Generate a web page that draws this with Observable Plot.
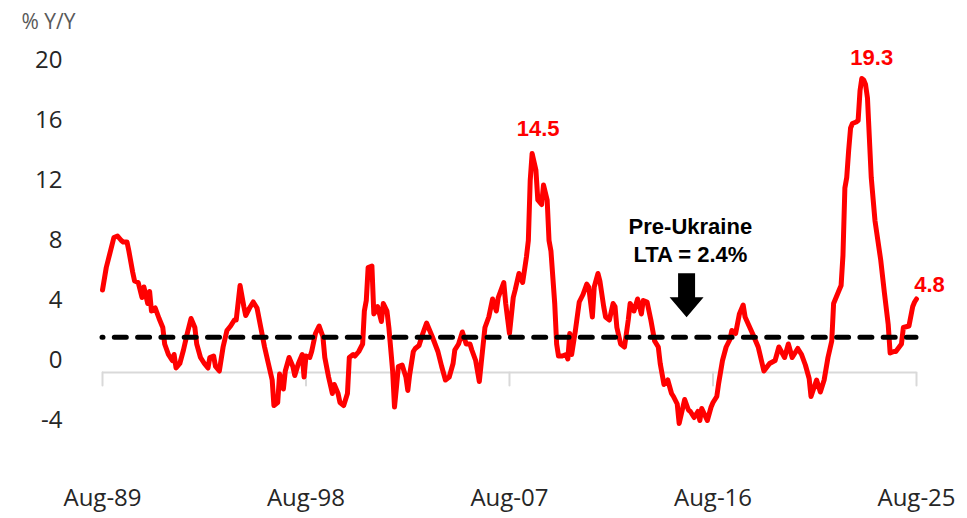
<!DOCTYPE html>
<html><head><meta charset="utf-8">
<script src="https://cdn.jsdelivr.net/npm/d3@7"></script>
<script src="https://cdn.jsdelivr.net/npm/@observablehq/plot@0.6"></script>
<style>html,body{margin:0;padding:0;background:#fff;} #chart svg{display:block}</style>
</head><body><div id="chart"></div><script>
// ---- data ----
const dates = ["1989-08","1989-10","1989-11","1990-02","1990-04","1990-06","1990-07","1990-09","1990-10","1990-12",
"1991-01","1991-03","1991-05","1991-06","1991-08","1991-09","1991-10","1991-12","1992-02","1992-04",
"1992-05","1992-07","1992-09","1992-10","1992-11","1993-01","1993-03","1993-05","1993-07","1993-09",
"1993-10","1993-12","1994-02","1994-04","1994-05","1994-07","1994-08","1994-10","1994-12","1995-02",
"1995-04","1995-06","1995-07","1995-09","1995-11","1995-12","1996-02","1996-04","1996-06","1996-08",
"1996-10","1996-12","1997-02","1997-03","1997-05","1997-06","1997-08","1997-09","1997-11","1998-01",
"1998-02","1998-04","1998-06","1998-07","1998-08","1998-10","1998-11","1999-01","1999-03","1999-05",
"1999-06","1999-08","1999-10","1999-11","2000-01","2000-02","2000-04","2000-06","2000-07","2000-09",
"2000-10","2000-12","2001-02","2001-03","2001-04","2001-05","2001-07","2001-08","2001-09","2001-10",
"2001-12","2002-01","2002-03","2002-04","2002-06","2002-07","2002-08","2002-09","2002-11","2003-01",
"2003-02","2003-03","2003-05","2003-06","2003-08","2003-10","2003-12","2004-03","2004-06","2004-08",
"2004-10","2004-12","2005-02","2005-03","2005-05","2005-07","2005-09","2005-11","2005-12","2006-02",
"2006-04","2006-05","2006-07","2006-09","2006-11","2007-01","2007-02","2007-05","2007-06","2007-08",
"2007-10","2007-11","2008-01","2008-03","2008-05","2008-06","2008-07","2008-08","2008-10","2008-11",
"2009-01","2009-02","2009-04","2009-05","2009-06","2009-08","2009-09","2009-10","2009-12","2010-02",
"2010-03","2010-04","2010-05","2010-07","2010-09","2010-11","2011-01","2011-02","2011-04","2011-05",
"2011-07","2011-08","2011-10","2011-11","2012-01","2012-03","2012-04","2012-05","2012-07","2012-09",
"2012-11","2012-12","2013-02","2013-04","2013-06","2013-07","2013-09","2013-11","2014-01","2014-03",
"2014-04","2014-06","2014-08","2014-10","2014-11","2015-01","2015-02","2015-05","2015-07","2015-08",
"2015-10","2015-12","2016-01","2016-02","2016-05","2016-07","2016-08","2016-10","2016-11","2017-01",
"2017-03","2017-05","2017-06","2017-08","2017-10","2017-12","2018-01","2018-05","2018-08","2018-11",
"2019-02","2019-05","2019-07","2019-10","2019-12","2020-02","2020-05","2020-07","2020-09","2020-11",
"2020-12","2021-03","2021-05","2021-07","2021-09","2021-11","2021-12","2022-03","2022-04","2022-05",
"2022-06","2022-07","2022-08","2022-09","2022-10","2022-12","2023-01","2023-02","2023-03","2023-04",
"2023-05","2023-06","2023-08","2023-10","2024-01","2024-03","2024-05","2024-06","2024-08","2024-09",
"2024-12","2025-01","2025-04","2025-06","2025-07","2025-08"];
const values = [4.7,6.2,6.7,8.2,8.3,8.0,7.9,7.9,7.3,5.9,
5.3,5.2,4.2,4.9,3.8,4.6,3.3,3.5,2.8,2.2,
1.1,0.4,0.0,0.4,-0.5,-0.2,0.7,1.8,2.8,2.2,
1.1,0.2,-0.2,-0.5,0.2,0.3,-0.4,-0.7,0.9,2.0,
2.3,2.7,2.7,5.0,3.6,3.0,3.5,3.9,3.5,2.2,
0.9,-0.2,-1.3,-3.0,-2.8,-0.9,-1.9,-0.7,0.2,-0.4,
-1.0,-0.2,0.4,-1.1,0.3,0.2,0.6,1.8,2.3,1.6,
0.2,-1.1,-2.2,-1.6,-2.2,-2.8,-3.0,-2.2,0.2,0.4,
0.3,0.6,1.1,3.3,4.0,6.2,6.3,3.1,3.3,3.6,
2.6,3.8,3.3,2.2,-0.7,-3.1,-1.8,-0.4,-0.3,-1.1,
-2.0,-1.0,0.6,0.8,1.0,1.8,2.5,1.6,0.6,-0.4,
-1.3,-1.1,-0.2,0.7,1.1,1.9,1.1,1.1,0.7,0.0,
-1.4,-0.2,2.2,2.9,4.1,3.3,4.2,5.2,3.8,1.8,
4.2,4.7,5.8,5.2,6.9,8.0,12.0,13.8,12.7,10.7,
10.4,11.7,10.7,8.0,7.3,3.8,1.1,0.3,0.3,0.4,
0.1,1.8,0.4,2.0,3.9,4.4,5.1,4.9,2.9,4.9,
5.8,5.3,3.6,2.9,2.7,3.8,3.6,2.2,1.1,0.9,
2.7,3.8,3.3,4.1,3.1,4.0,3.9,2.7,1.3,0.9,
-0.2,-1.6,-1.3,-2.2,-2.4,-2.9,-4.2,-2.6,-3.3,-3.4,
-3.8,-3.4,-4.0,-3.2,-4.0,-3.1,-2.8,-2.4,-1.5,0.0,
0.9,1.4,2.0,1.8,3.1,3.7,2.9,1.8,0.9,-0.7,
-0.2,0.0,0.9,0.2,1.1,0.2,0.8,0.4,-0.3,-1.2,
-2.4,-1.3,-2.1,-1.3,0.2,1.3,3.8,4.7,5.0,7.0,
11.5,12.2,14.0,15.5,15.8,15.9,16.0,18.0,18.8,18.7,
18.4,17.5,12.2,9.3,6.7,4.5,2.4,0.5,0.6,0.6,
1.1,2.2,2.3,3.6,3.9,4.1];

const yTicks = [-4, 0, 4, 8, 12, 16, 20];
const xTickDates = ["1989-08", "1998-08", "2007-08", "2016-08", "2025-08"];
const xTickLabels = ["Aug-89", "Aug-98", "Aug-07", "Aug-16", "Aug-25"];
const unitLabel = "% Y/Y";
const ltaLevel = 1.55;            // level at which the dashed line is drawn
const ltaNote = "Pre-Ukraine\nLTA = 2.4%";
const ltaNoteDate = "2015-08";
const ltaArrowDate = "2015-06";
const peakDates = ["2008-08", "2023-03", "2025-08"];
const peakLabels = ["14.5", "19.3", "4.8"];
const axisBase = -0.8;            // where the category axis line crosses

// ---- build ----
const parse = d3.utcParse("%Y-%m");
const data = dates.map((d, i) => ({date: parse(d), value: values[i]}));
const xTicks = xTickDates.map(parse);
const labelMap = new Map(xTicks.map((d, i) => [+d, xTickLabels[i]]));
const start = parse(dates[0]), end = parse(dates[dates.length - 1]);
const peakPts = peakDates.map((d, i) => ({...data.find(p => +p.date === +parse(d)), label: peakLabels[i]}));

const tickShape = {draw(ctx, l) { ctx.moveTo(0, 0); ctx.lineTo(0, -l); }};
const blockArrow = {draw(ctx, l) {
  const sw = 8.5, hw = 17, hl = 20;
  ctx.moveTo(-sw, 0); ctx.lineTo(-sw, -l + hl); ctx.lineTo(-hw, -l + hl);
  ctx.lineTo(0, -l); ctx.lineTo(hw, -l + hl); ctx.lineTo(sw, -l + hl);
  ctx.lineTo(sw, 0); ctx.closePath();
}};

const boldFont = "'Liberation Sans', Arial, sans-serif";
const peakOffsets = [[6, -25], [10, -21], [13, -14]];

const chart = Plot.plot({
  width: 967, height: 518,
  marginLeft: 102, marginRight: 51, marginTop: 60, marginBottom: 98,
  x: {type: "utc", domain: [parse(xTickDates[0]), parse(xTickDates[xTickDates.length - 1])]},
  y: {domain: [-4, 20]},
  style: {fontFamily: "'Open Sans', sans-serif", fontSize: "24px", color: "#262626", background: "white"},
  marks: [
    Plot.axisY(yTicks, {tickSize: 0, tickPadding: 40, fontSize: 24, label: null, tickFormat: d => String(d)}),
    Plot.axisX(xTicks, {tickSize: 0, tickPadding: 68, fontSize: 24, label: null, tickFormat: d => labelMap.get(+d)}),
    Plot.ruleY([axisBase], {x1: () => start, x2: () => end, stroke: "#d9d9d9", strokeWidth: 2}),
    Plot.vector(xTicks, {x: d => d, y: () => axisBase, rotate: 180, length: 13, anchor: "start",
      shape: tickShape, stroke: "#d9d9d9", strokeWidth: 2}),
    Plot.line(data, {x: "date", y: "value", stroke: "#ff0000", strokeWidth: 5, strokeLinejoin: "round"}),
    Plot.ruleY([ltaLevel], {x1: () => start, x2: () => end, stroke: "black", strokeWidth: 5,
      strokeDasharray: "12 11.3", strokeDashoffset: 11, strokeLinecap: "round"}),
    ...peakPts.map((p, i) => Plot.text([p], {x: "date", y: "value", text: "label",
      dx: peakOffsets[i][0], dy: peakOffsets[i][1], fill: "#ff0000", fontWeight: "bold",
      fontFamily: boldFont, fontSize: 22})),
    Plot.text([ltaNote], {x: () => parse(ltaNoteDate), y: () => ltaLevel, text: d => d, dy: -98,
      lineHeight: 1.27, fill: "black", fontWeight: "bold", fontFamily: boldFont, fontSize: 22}),
    Plot.vector([ltaArrowDate], {x: d => parse(d), y: () => ltaLevel, dy: -20, rotate: 180, length: 44,
      anchor: "end", shape: blockArrow, fill: "black", stroke: "none"}),
    Plot.text([unitLabel], {frameAnchor: "top-left", text: d => d, dx: -81, dy: -38,
      textAnchor: "start", lineAnchor: "middle", fontSize: 21, fill: "#595959"})
  ]
});
document.getElementById("chart").appendChild(chart);
</script></body></html>
